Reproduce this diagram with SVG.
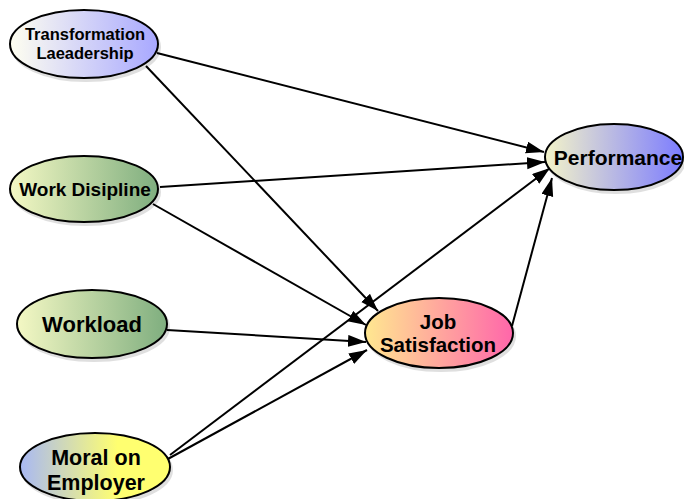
<svg xmlns="http://www.w3.org/2000/svg" width="684" height="499" viewBox="0 0 684 499">
<defs>
<linearGradient id="gTL" x1="0" y1="0" x2="1" y2="0"><stop offset="0" stop-color="#fffff0"/><stop offset="1" stop-color="#a8a8ff"/></linearGradient>
<linearGradient id="gPerf" x1="0" y1="0" x2="1" y2="0"><stop offset="0" stop-color="#f4f4c8"/><stop offset="1" stop-color="#7c7cff"/></linearGradient>
<linearGradient id="gGreen" x1="0" y1="0" x2="1" y2="0"><stop offset="0" stop-color="#f4f8c4"/><stop offset="1" stop-color="#7fae7f"/></linearGradient>
<linearGradient id="gJS" x1="0" y1="0" x2="1" y2="0"><stop offset="0" stop-color="#ffe890"/><stop offset="1" stop-color="#ff66aa"/></linearGradient>
<linearGradient id="gMoral" x1="0" y1="0" x2="1" y2="0"><stop offset="0" stop-color="#a8b8f4"/><stop offset="0.65" stop-color="#ffff70"/><stop offset="1" stop-color="#ffff70"/></linearGradient>
<marker id="arr" markerUnits="userSpaceOnUse" markerWidth="20" markerHeight="14" refX="18" refY="6" orient="auto"><path d="M0,0 L18,6 L0,12 z" fill="#000"/></marker>
</defs>
<style>
.node ellipse{stroke:#000;stroke-width:2}
.shadow{fill:#000;opacity:0.12}
.node text{font-family:"Liberation Sans",Arial,sans-serif;font-weight:bold;fill:#000;text-anchor:middle}
#edges line{stroke:#000;stroke-width:2;marker-end:url(#arr)}
</style>
<rect width="684" height="499" fill="#fff"/>
<g id="edges">
<line x1="157" y1="53" x2="544" y2="152"/>
<line x1="146" y1="66" x2="378" y2="311"/>
<line x1="160" y1="187" x2="545" y2="162"/>
<line x1="153" y1="204" x2="366" y2="325"/>
<line x1="167" y1="330" x2="366" y2="342"/>
<line x1="166" y1="460" x2="367" y2="350"/>
<line x1="170" y1="455" x2="550" y2="168"/>
<line x1="512" y1="326" x2="552" y2="178"/>
</g>
<g id="n-transformation" class="node">
<ellipse class="shadow" cx="86" cy="47" rx="74" ry="34"/>
<ellipse cx="84" cy="44" rx="74" ry="34" fill="url(#gTL)"/>
<text x="85" y="40" font-size="16.5">Transformation</text>
<text x="85" y="59" font-size="16.5">Laeadership</text>
</g>
<g id="n-performance" class="node">
<ellipse class="shadow" cx="616" cy="160" rx="69" ry="33"/>
<ellipse cx="614" cy="157" rx="69" ry="33" fill="url(#gPerf)"/>
<text x="618" y="165" font-size="21">Performance</text>
</g>
<g id="n-workdisipline" class="node">
<ellipse class="shadow" cx="86" cy="192" rx="74" ry="33"/>
<ellipse cx="84" cy="189" rx="74" ry="33" fill="url(#gGreen)"/>
<text x="85" y="196" font-size="19">Work Disipline</text>
</g>
<g id="n-workload" class="node">
<ellipse class="shadow" cx="94" cy="327" rx="75" ry="34"/>
<ellipse cx="92" cy="324" rx="75" ry="34" fill="url(#gGreen)"/>
<text x="92" y="332" font-size="22">Workload</text>
</g>
<g id="n-jobsatisfaction" class="node">
<ellipse class="shadow" cx="441" cy="336" rx="74" ry="35"/>
<ellipse cx="439" cy="333" rx="74" ry="35" fill="url(#gJS)"/>
<text x="438" y="329" font-size="20.5">Job</text>
<text x="438" y="352" font-size="20.5">Satisfaction</text>
</g>
<g id="n-moral" class="node">
<ellipse class="shadow" cx="97" cy="470" rx="75" ry="34"/>
<ellipse cx="95" cy="467" rx="75" ry="34" fill="url(#gMoral)"/>
<text x="96" y="465" font-size="21.5">Moral on</text>
<text x="96" y="490" font-size="21.5">Employer</text>
</g>
</svg>
